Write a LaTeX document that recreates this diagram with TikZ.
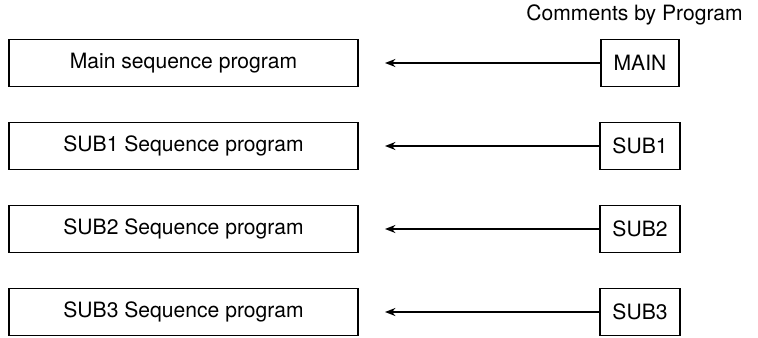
\documentclass[tikz,border=0pt]{standalone}
\usepackage{fontspec}
\setmainfont{TeX Gyre Heros}
\usetikzlibrary{arrows.meta}

\begin{document}
\begin{tikzpicture}[x=0.25mm, y=-0.25mm,
        every node/.style={font=\fontsize{15}{18}\selectfont},
        progbox/.style={draw, line width=1.4pt, minimum width=349*0.25mm, minimum height=47*0.25mm},
        cmtbox/.style={draw, line width=1.4pt, inner xsep=3.2mm, minimum height=47*0.25mm},
        feed/.style={line width=1.4pt, -{Stealth[length=2.6mm, width=2mm]}}]
        \useasboundingbox (0,0) rectangle (758,338);

        % Heading over the comment boxes
        \node[anchor=north east, inner sep=0pt] (head) at (743,4) {Comments by Program};

        % Main row
        \node[progbox] (mainprog) at (183.5,63) {Main sequence program};
        \node[cmtbox] (maincmt) at (640,63) {MAIN};
        \coordinate (mainend) at (385,63);
        \draw[feed] (maincmt.west) -- (mainend);

        % SUB1 row
        \node[progbox] (sub1prog) at (183.5,146) {SUB1 Sequence program};
        \node[cmtbox] (sub1cmt) at (640,146) {SUB1};
        \coordinate (sub1end) at (385,146);
        \draw[feed] (sub1cmt.west) -- (sub1end);

        % SUB2 row
        \node[progbox] (sub2prog) at (183.5,229) {SUB2 Sequence program};
        \node[cmtbox] (sub2cmt) at (640,229) {SUB2};
        \coordinate (sub2end) at (385,229);
        \draw[feed] (sub2cmt.west) -- (sub2end);

        % SUB3 row
        \node[progbox] (sub3prog) at (183.5,312) {SUB3 Sequence program};
        \node[cmtbox] (sub3cmt) at (640,312) {SUB3};
        \coordinate (sub3end) at (385,312);
        \draw[feed] (sub3cmt.west) -- (sub3end);
    \end{tikzpicture}
\end{document}
